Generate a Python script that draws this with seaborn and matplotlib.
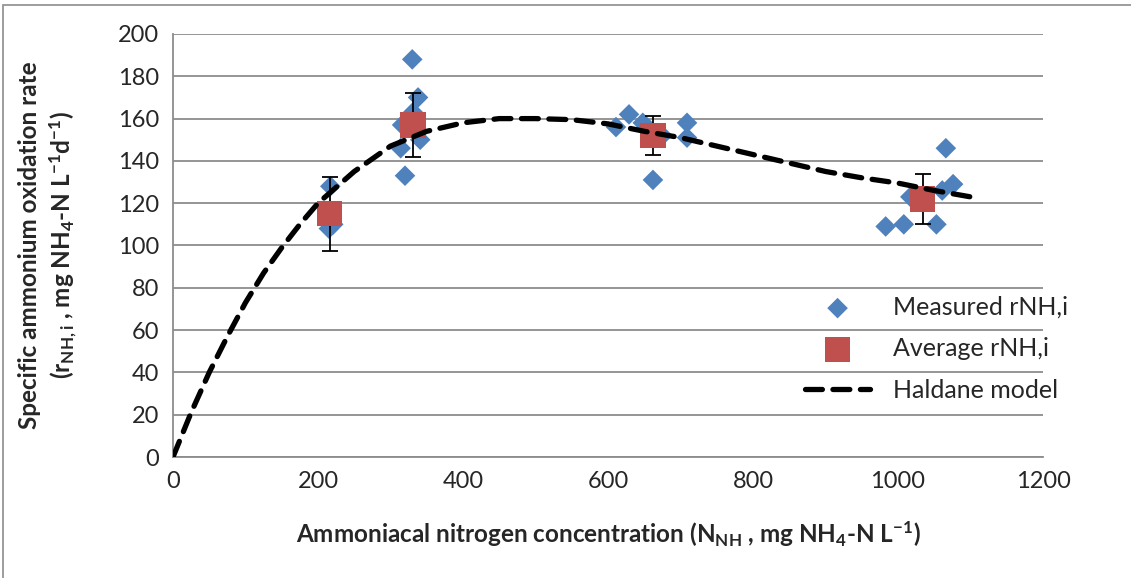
import numpy as np
import pandas as pd
import seaborn as sns
import matplotlib.pyplot as plt
from matplotlib.patches import Rectangle

# measured individual rates
meas_x = [217, 215, 221, 330, 338, 331, 316, 341, 314, 320,
          629, 611, 648, 709, 709, 662, 675,
          1066, 1076, 1061, 1017, 983, 1008, 1053]
meas_y = [128, 108, 110, 188, 170, 163, 157, 150, 146, 133,
          162, 156, 158, 158, 151, 131, 152,
          146, 129, 126, 123, 109, 110, 110]

# averages with error bars
avg_x = [216, 331, 662, 1034]
avg_y = [115, 157, 152, 122]
avg_err = [17.5, 15, 9, 12]

# Haldane model curve
model_x = [0, 25, 50, 75, 100, 125, 150, 175, 200, 250, 300, 350, 400, 450,
           500, 550, 600, 650, 700, 750, 800, 850, 900, 950, 1000, 1050, 1100]
model_y = [0, 21, 40, 57, 73, 87, 99, 110, 120, 135, 147, 154, 158, 160,
           160, 159.5, 157.5, 154, 151, 147, 143, 139, 135, 132, 129.5, 126, 123]

sns.set_style("white")
plt.rcParams['font.family'] = ['Lato', 'DejaVu Sans']
plt.rcParams['mathtext.fontset'] = 'custom'
plt.rcParams['mathtext.rm'] = 'Lato'
plt.rcParams['mathtext.bf'] = 'Lato:bold'
plt.rcParams['mathtext.default'] = 'bf'

fig = plt.figure(figsize=(11.31, 5.78), dpi=100)
ax = fig.add_axes([173 / 1131, 1 - 457 / 578, (1043 - 173) / 1131, (457 - 34) / 578])

# outer chart frame
fig.patches.append(Rectangle((3 / 1131, -0.1), 1.2, 1 - 5 / 578 + 0.1,
                             transform=fig.transFigure, fill=False,
                             edgecolor='#8c8c8c', linewidth=1.2))

ax.set_xlim(0, 1200)
ax.set_ylim(0, 200)
ax.set_xticks(range(0, 1201, 200))
ax.set_yticks(range(0, 201, 20))
ax.yaxis.grid(True, color='#8c8c8c', linewidth=1.3)
ax.xaxis.grid(False)
ax.set_axisbelow(True)
for s in ['top', 'right']:
    ax.spines[s].set_visible(False)
for s in ['left', 'bottom']:
    ax.spines[s].set_color('#8c8c8c')
    ax.spines[s].set_linewidth(1.3)
ax.tick_params(length=0, labelsize=17, pad=10)

df_m = pd.DataFrame({'x': meas_x, 'y': meas_y})
sns.scatterplot(data=df_m, x='x', y='y', ax=ax, marker='D', s=110,
                color='#4F81BD', edgecolor='none', label='Measured rNH,i', zorder=3)

ax.errorbar(avg_x, avg_y, yerr=avg_err, fmt='none', ecolor='black',
            elinewidth=1.3, capsize=6, capthick=1.3, zorder=4)
df_a = pd.DataFrame({'x': avg_x, 'y': avg_y})
sns.scatterplot(data=df_a, x='x', y='y', ax=ax, marker='s', s=330,
                color='#C0504D', edgecolor='none', label='Average rNH,i', zorder=5)

df_h = pd.DataFrame({'x': model_x, 'y': model_y})
sns.lineplot(data=df_h, x='x', y='y', ax=ax, color='black', linewidth=3.8,
             label='Haldane model', zorder=6)
ax.lines[-1].set_dashes([3.2, 2.0])
ax.lines[-1].set_dash_capstyle('round')

ax.set_xlabel('Ammoniacal nitrogen concentration (N$_{NH}$ , mg NH$_4$-N L$^{-1}$)',
              fontsize=17.5, fontweight='bold', labelpad=20)
ax.set_ylabel('Specific ammonium oxidation rate\n(r$_{NH,i}$ , mg NH$_4$-N L$^{-1}$d$^{-1}$)',
              fontsize=17.5, fontweight='bold', labelpad=28, linespacing=1.25)

leg = ax.legend(loc='upper left', bbox_to_anchor=(0.715, 0.405), frameon=False,
                fontsize=18, handlelength=2.6, labelspacing=0.75, borderaxespad=0,
                handletextpad=0.9)

fig.savefig('out.png', dpi=100)
